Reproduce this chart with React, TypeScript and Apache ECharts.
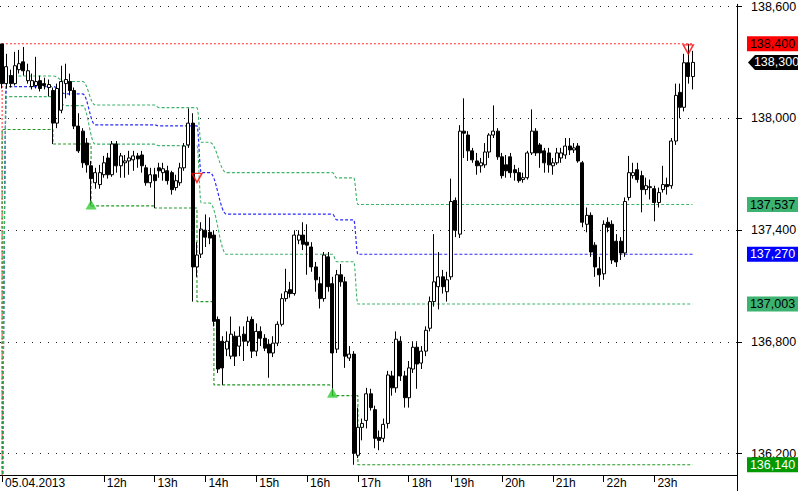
import React, { useEffect, useRef } from 'react';
import * as echarts from 'echarts';

const FONT = '"Liberation Sans", Arial, sans-serif';

// 5-minute slots on the category axis (last slots are empty future time)
const SLOT_COUNT = 174;
const CATEGORIES = Array.from({ length: SLOT_COUNT }, (_, i) => String(i));
const X_TICK_INDEX = [0, 24, 36, 48, 60, 72, 84, 96, 106, 118, 130, 142, 154];
const X_TICK_TEXT = ['05.04.2013', '12h', '13h', '14h', '15h', '16h', '17h', '18h', '19h', '20h', '21h', '22h', '23h'];

const Y_MIN = 136.0851;
const Y_MAX = 138.6117;
const Y_TICKS = [136.2, 136.8, 137.4, 138.0, 138.6];

// [open, close, low, high]
const OHLC = [
  [138.399, 138.186, 138.160, 138.400],
  [138.186, 138.277, 138.160, 138.346],
  [138.229, 138.186, 138.165, 138.261],
  [138.186, 138.282, 138.176, 138.357],
  [138.261, 138.293, 138.240, 138.367],
  [138.303, 138.255, 138.229, 138.383],
  [138.202, 138.255, 138.186, 138.293],
  [138.170, 138.202, 138.155, 138.240],
  [138.176, 138.197, 138.160, 138.330],
  [138.202, 138.160, 138.144, 138.229],
  [138.186, 138.176, 138.155, 138.218],
  [138.165, 138.181, 138.117, 138.208],
  [138.149, 137.974, 137.862, 138.165],
  [137.974, 138.160, 137.947, 138.186],
  [138.043, 138.197, 138.027, 138.282],
  [138.186, 138.208, 138.107, 138.293],
  [138.197, 138.149, 138.123, 138.240],
  [138.149, 137.958, 137.942, 138.165],
  [137.958, 137.825, 137.814, 138.027],
  [137.931, 137.761, 137.734, 137.947],
  [137.867, 137.750, 137.708, 137.894],
  [137.745, 137.676, 137.532, 137.771],
  [137.654, 137.708, 137.622, 137.734],
  [137.644, 137.708, 137.622, 137.750],
  [137.697, 137.761, 137.681, 137.798],
  [137.787, 137.697, 137.676, 137.814],
  [137.697, 137.862, 137.686, 137.878],
  [137.862, 137.745, 137.708, 137.878],
  [137.745, 137.798, 137.681, 137.814],
  [137.761, 137.771, 137.681, 137.803],
  [137.771, 137.787, 137.697, 137.825],
  [137.777, 137.798, 137.718, 137.825],
  [137.798, 137.782, 137.734, 137.814],
  [137.803, 137.745, 137.708, 137.825],
  [137.734, 137.654, 137.638, 137.750],
  [137.654, 137.697, 137.628, 137.734],
  [137.697, 137.665, 137.518, 137.734],
  [137.734, 137.718, 137.681, 137.761],
  [137.708, 137.729, 137.665, 137.761],
  [137.718, 137.665, 137.644, 137.745],
  [137.708, 137.617, 137.590, 137.718],
  [137.628, 137.665, 137.612, 137.697],
  [137.654, 137.734, 137.638, 137.761],
  [137.734, 137.851, 137.718, 137.867],
  [137.857, 137.974, 137.841, 138.053],
  [137.974, 137.202, 137.016, 138.027],
  [137.202, 137.266, 137.149, 137.335],
  [137.271, 137.405, 137.250, 137.442],
  [137.399, 137.362, 137.309, 137.484],
  [137.388, 137.357, 137.324, 137.468],
  [137.373, 136.910, 136.883, 137.399],
  [136.920, 136.654, 136.633, 136.936],
  [136.803, 136.660, 136.569, 136.830],
  [136.761, 136.803, 136.723, 136.856],
  [136.723, 136.841, 136.707, 136.936],
  [136.830, 136.723, 136.670, 136.856],
  [136.777, 136.830, 136.723, 136.883],
  [136.841, 136.803, 136.697, 136.883],
  [136.803, 136.910, 136.777, 136.936],
  [136.920, 136.750, 136.713, 136.936],
  [136.750, 136.856, 136.723, 136.899],
  [136.856, 136.819, 136.777, 136.883],
  [136.819, 136.766, 136.750, 136.841],
  [136.787, 136.740, 136.607, 136.814],
  [136.740, 136.793, 136.718, 136.830],
  [136.793, 136.894, 136.777, 136.910],
  [136.894, 137.032, 136.883, 137.059],
  [137.032, 137.069, 137.016, 137.192],
  [137.080, 137.059, 137.037, 137.122],
  [137.059, 137.373, 137.048, 137.399],
  [137.346, 137.373, 137.324, 137.399],
  [137.373, 137.324, 137.293, 137.442],
  [137.335, 137.319, 137.160, 137.431],
  [137.309, 137.202, 137.176, 137.335],
  [137.202, 137.133, 137.069, 137.229],
  [137.112, 137.032, 136.979, 137.149],
  [137.032, 137.266, 137.016, 137.282],
  [137.256, 137.096, 137.069, 137.282],
  [137.112, 136.740, 136.511, 137.149],
  [136.761, 137.160, 136.740, 137.186],
  [137.160, 137.122, 137.096, 137.218],
  [137.122, 136.723, 136.660, 137.149],
  [136.713, 136.734, 136.697, 136.777],
  [136.734, 136.202, 136.140, 136.750],
  [136.191, 136.341, 136.176, 136.447],
  [136.341, 136.362, 136.271, 136.388],
  [136.378, 136.521, 136.335, 136.553],
  [136.521, 136.447, 136.431, 136.548],
  [136.436, 136.282, 136.229, 136.457],
  [136.287, 136.271, 136.218, 136.324],
  [136.282, 136.357, 136.261, 136.388],
  [136.362, 136.622, 136.335, 136.644],
  [136.617, 136.553, 136.511, 136.644],
  [136.553, 136.814, 136.527, 136.856],
  [136.803, 136.617, 136.590, 136.830],
  [136.617, 136.500, 136.447, 136.644],
  [136.500, 136.660, 136.447, 136.697],
  [136.654, 136.771, 136.633, 136.803],
  [136.771, 136.681, 136.548, 136.803],
  [136.686, 136.750, 136.654, 136.777],
  [136.750, 136.862, 136.723, 136.883],
  [136.873, 137.016, 136.856, 137.043],
  [137.016, 137.122, 136.989, 137.378],
  [137.096, 137.149, 136.974, 137.282],
  [137.149, 137.096, 137.059, 137.186],
  [137.069, 137.133, 137.016, 137.176],
  [137.149, 137.553, 137.133, 137.676],
  [137.559, 137.399, 137.362, 137.575],
  [137.378, 137.931, 137.357, 137.963],
  [137.931, 137.920, 137.787, 138.107],
  [137.910, 137.825, 137.771, 137.931],
  [137.825, 137.777, 137.761, 137.841],
  [137.771, 137.745, 137.697, 137.814],
  [137.745, 137.761, 137.708, 137.787],
  [137.750, 137.819, 137.734, 137.867],
  [137.819, 137.910, 137.787, 137.920],
  [137.910, 137.931, 137.894, 138.069],
  [137.931, 137.793, 137.777, 137.947],
  [137.793, 137.692, 137.676, 137.814],
  [137.750, 137.718, 137.681, 137.803],
  [137.793, 137.708, 137.681, 137.814],
  [137.724, 137.708, 137.665, 137.750],
  [137.708, 137.665, 137.654, 137.734],
  [137.671, 137.681, 137.654, 137.708],
  [137.681, 137.814, 137.671, 137.825],
  [137.814, 137.931, 137.803, 138.048],
  [137.931, 137.814, 137.798, 137.947],
  [137.857, 137.814, 137.734, 137.867],
  [137.825, 137.761, 137.708, 137.841],
  [137.814, 137.750, 137.708, 137.841],
  [137.745, 137.761, 137.697, 137.787],
  [137.761, 137.814, 137.750, 137.841],
  [137.787, 137.814, 137.761, 137.841],
  [137.803, 137.851, 137.782, 137.894],
  [137.851, 137.830, 137.803, 137.894],
  [137.830, 137.841, 137.814, 137.867],
  [137.851, 137.771, 137.761, 137.867],
  [137.761, 137.442, 137.415, 137.771],
  [137.431, 137.479, 137.388, 137.521],
  [137.479, 137.282, 137.256, 137.495],
  [137.319, 137.202, 137.149, 137.335],
  [137.192, 137.160, 137.096, 137.256],
  [137.165, 137.431, 137.133, 137.452],
  [137.442, 137.415, 137.388, 137.468],
  [137.431, 137.239, 137.218, 137.452],
  [137.340, 137.229, 137.202, 137.378],
  [137.340, 137.277, 137.239, 137.362],
  [137.277, 137.553, 137.256, 137.575],
  [137.575, 137.708, 137.559, 137.798],
  [137.692, 137.708, 137.676, 137.761],
  [137.724, 137.671, 137.654, 137.761],
  [137.692, 137.617, 137.495, 137.718],
  [137.617, 137.638, 137.590, 137.681],
  [137.628, 137.633, 137.564, 137.671],
  [137.622, 137.548, 137.447, 137.638],
  [137.548, 137.601, 137.521, 137.628],
  [137.617, 137.644, 137.601, 137.745],
  [137.644, 137.633, 137.590, 137.681],
  [137.638, 137.878, 137.622, 137.894],
  [137.878, 138.123, 137.857, 138.186],
  [138.139, 138.059, 138.000, 138.186],
  [138.059, 138.298, 138.037, 138.346],
  [138.298, 138.224, 138.186, 138.400],
  [138.224, 138.300, 138.155, 138.362],
];

// channel lines: [slot index, value]
const HIGH_LINE = [[0, 135.5], [163, 138.4]];
const F618_LINE = [[0, 135.5], [1, 138.227], [12, 138.227], [15, 138.197], [19, 138.197], [22, 138.071], [36, 138.071], [37, 138.057], [46, 138.057], [47, 137.871], [49, 137.871], [53, 137.708], [78, 137.708], [79, 137.68], [83, 137.68], [84, 137.537], [163, 137.537]];
const MID_LINE = [[0, 135.5], [1, 138.17], [12, 138.17], [15, 138.131], [19, 138.131], [22, 137.965], [36, 137.965], [37, 137.959], [46, 137.959], [47, 137.708], [49, 137.708], [53, 137.485], [78, 137.485], [79, 137.455], [83, 137.455], [84, 137.27], [163, 137.27]];
const F382_LINE = [[0, 135.5], [1, 138.116], [12, 138.116], [15, 138.068], [19, 138.068], [22, 137.861], [36, 137.861], [37, 137.853], [46, 137.853], [47, 137.545], [49, 137.545], [53, 137.27], [78, 137.27], [79, 137.23], [83, 137.23], [84, 137.003], [163, 137.003]];
// step 'start': each point's value holds over the segment that ends at it
const LOW_LINE = [[0, 135.5], [12, 137.94], [21, 137.862], [36, 137.53], [46, 137.518], [50, 137.016], [78, 136.569], [84, 136.511], [163, 136.14]];

const BUY_MARKS = [[21, 137.537], [78, 136.527]];
const SELL_MARKS = [[46, 137.68], [162, 138.37]];

const LEVEL_VALUES = [138.4, 138.3, 137.537, 137.27, 137.003, 136.14];

const fmt = (v: number) => v.toFixed(3).replace('.', ',');

export default function App() {
  const ref = useRef<HTMLDivElement>(null);

  useEffect(() => {
    if (!ref.current) return;
    const chart = echarts.init(ref.current, null, { renderer: 'svg' });

    const dashed = (color: string, type: any = [3, 2], width = 1) => ({ color, width, type });

    chart.setOption({
      animation: false,
      backgroundColor: '#ffffff',
      grid: { left: 0, right: 63, top: 0, bottom: 16, containLabel: false },
      xAxis: {
        type: 'category',
        data: CATEGORIES,
        boundaryGap: true,
        axisLine: { show: true, onZero: false, lineStyle: { color: '#000', width: 1 } },
        axisTick: {
          show: true,
          alignWithLabel: true,
          interval: (i: number) => X_TICK_INDEX.includes(i),
          length: 7,
          lineStyle: { color: '#000' },
        },
        axisLabel: {
          interval: (i: number) => X_TICK_INDEX.includes(i),
          formatter: (_v: string, i: number) => X_TICK_TEXT[X_TICK_INDEX.indexOf(i)] ?? '',
          align: 'left',
          margin: 2,
          padding: [0, 0, 0, 3],
          color: '#000',
          fontSize: 12,
          fontFamily: FONT,
        },
        splitLine: { show: false },
      },
      yAxis: {
        type: 'value',
        position: 'right',
        min: Y_MIN,
        max: Y_MAX,
        axisLine: { show: true, lineStyle: { color: '#000', width: 1 } },
        axisTick: { show: true, customValues: Y_TICKS, length: 5, lineStyle: { color: '#000' } },
        axisLabel: {
          customValues: Y_TICKS,
          formatter: (v: number) => fmt(v),
          margin: 14,
          color: '#000',
          fontSize: 12.5,
          fontFamily: FONT,
        },
        splitLine: { show: false },
      },
      series: [
        {
          type: 'line', data: HIGH_LINE, step: 'start', symbol: 'none', silent: true, z: 1,
          lineStyle: dashed('#ff2a2a', [2, 2]),
          markLine: {
            silent: true, symbol: 'none', label: { show: false },
            lineStyle: { color: '#222', width: 1, type: [1, 7] },
            data: Y_TICKS.map((v) => ({ yAxis: v })),
          },
        },
        { type: 'line', data: F618_LINE, smooth: 0.4, smoothMonotone: 'x', symbol: 'none', silent: true, z: 1, lineStyle: dashed('#3cb36a', [3, 2], 1.1) },
        { type: 'line', data: MID_LINE, smooth: 0.4, smoothMonotone: 'x', symbol: 'none', silent: true, z: 1, lineStyle: dashed('#2a2aff', [3, 2], 1.2) },
        { type: 'line', data: F382_LINE, smooth: 0.4, smoothMonotone: 'x', symbol: 'none', silent: true, z: 1, lineStyle: dashed('#3cb36a', [3, 2], 1.1) },
        { type: 'line', data: LOW_LINE, step: 'start', symbol: 'none', silent: true, z: 1, lineStyle: dashed('#229a22', [3, 2], 1.1) },
        {
          type: 'candlestick',
          data: OHLC,
          barWidth: 3.5,
          z: 2,
          itemStyle: { color: '#ffffff', color0: '#000000', borderColor: '#000000', borderColor0: '#000000', borderWidth: 1 },
        },
        {
          type: 'scatter', data: BUY_MARKS, symbol: 'triangle', symbolSize: [11, 10], z: 4, silent: true,
          itemStyle: { color: '#33cc33' },
        },
        {
          type: 'scatter', data: SELL_MARKS, symbol: 'triangle', symbolRotate: 180, symbolSize: [10, 9], z: 4, silent: true,
          itemStyle: { color: 'rgba(255,255,255,0)', borderColor: '#ff0000', borderWidth: 1.5 },
        },
      ],
    });

    const LEVEL_STYLES = [
      { bg: '#ff0000', fg: '#000000', arrow: false },
      { bg: '#000000', fg: '#ffffff', arrow: true },
      { bg: '#3cb371', fg: '#000000', arrow: false },
      { bg: '#0000ff', fg: '#ffffff', arrow: false },
      { bg: '#3cb371', fg: '#000000', arrow: false },
      { bg: '#009900', fg: '#ffffff', arrow: false },
    ];

    const els: any[] = [];
    LEVEL_VALUES.forEach((v, k) => {
      const y = chart.convertToPixel({ yAxisIndex: 0 }, v) as number;
      const st = LEVEL_STYLES[k];
      if (st.arrow) {
        els.push({
          type: 'polygon', z: 10,
          shape: { points: [[748, y], [755, y - 7.5], [798, y - 7.5], [798, y + 7.5], [755, y + 7.5]] },
          style: { fill: st.bg },
        });
      } else {
        els.push({ type: 'rect', z: 10, shape: { x: 747, y: y - 7.5, width: 51, height: 15 }, style: { fill: st.bg } });
      }
      els.push({
        type: 'text', z: 11, x: st.arrow ? 776.5 : 772.5, y,
        style: { text: fmt(v), fill: st.fg, font: `12.5px ${FONT}`, textAlign: 'center', textVerticalAlign: 'middle' },
      });
    });
    els.push({ type: 'line', z: 10, shape: { x1: 737.5, y1: 475, x2: 737.5, y2: 491 }, style: { stroke: '#000', lineWidth: 1 } });
    chart.setOption({ graphic: els });

    return () => chart.dispose();
  }, []);

  return <div ref={ref} style={{ position: 'fixed', left: 0, top: 0, width: 800, height: 491 }} />;
}
